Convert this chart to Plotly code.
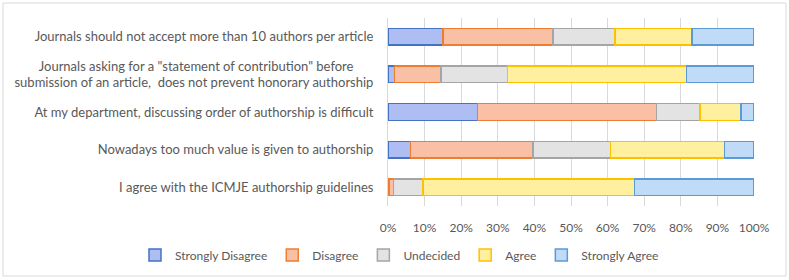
import plotly.graph_objects as go

NB = "\u00a0"
categories = [
    "Journals should not accept more than 10 authors per article",
    "Journals asking for a \"statement of contribution\" before" + NB * 6
    + "<br>submission of an article,  does not prevent honorary authorship",
    "At my department, discussing order of authorship is difficult",
    "Nowadays too much value is given to authorship",
    "I agree with the ICMJE authorship guidelines",
]
strongly_disagree = [15.0, 1.8, 24.5, 6.1, 0.3]
disagree = [30.1, 12.7, 48.8, 33.5, 1.2]
undecided = [16.9, 18.2, 12.0, 21.2, 8.0]
agree = [21.0, 48.8, 11.2, 31.1, 57.8]
strongly_agree = [17.0, 18.5, 3.5, 8.1, 32.7]

series = [
    ("Strongly Disagree", strongly_disagree, "#AEBDF2", "#4472C4"),
    ("Disagree", disagree, "#F9C0A6", "#ED7D31"),
    ("Undecided", undecided, "#E3E3E3", "#A5A5A5"),
    ("Agree", agree, "#FFF0A0", "#FFC000"),
    ("Strongly Agree", strongly_agree, "#BFDBF7", "#5B9BD5"),
]

fig = go.Figure()
for name, vals, fill, line in series:
    fig.add_trace(go.Bar(
        y=categories, x=vals, name=name, orientation="h",
        marker=dict(color=fill, line=dict(color=line, width=1.5)),
    ))

W, H = 789, 280
L, R, T, B = 388, 35, 18, 74
pw, ph = W - L - R, H - T - B

font_family = "Lato, Open Sans, sans-serif"
fig.update_layout(
    barmode="stack",
    width=W, height=H,
    margin=dict(l=L, r=R, t=T, b=B, autoexpand=False),
    paper_bgcolor="white", plot_bgcolor="white",
    font=dict(family=font_family, size=12, color="#595959"),
    showlegend=True,
    legend=dict(orientation="h", x=(135 - L) / pw, xanchor="left",
                y=-(255 - (H - B)) / ph, yanchor="middle",
                yref="paper", xref="paper",
                font=dict(size=12, color="#595959"), traceorder="normal"),
    bargap=0.56,
    shapes=[dict(type="rect", xref="paper", yref="paper",
                 x0=-(L - 3) / pw, x1=1 + (R - 3) / pw,
                 y0=-(B - 4) / ph, y1=1 + (T - 3) / ph,
                 line=dict(color="#D9D9D9", width=1), layer="below")],
)
fig.update_xaxes(range=[0, 100], dtick=10, ticksuffix="%", showgrid=True,
                 gridcolor="#D9D9D9", gridwidth=1, zeroline=False,
                 ticks="outside", ticklen=5, tickcolor="rgba(0,0,0,0)",
                 ticklabelstandoff=6,
                 tickfont=dict(size=12, color="#595959"), fixedrange=True,
                 automargin=False)
fig.update_yaxes(autorange="reversed", showgrid=False, showline=True,
                 linecolor="#D9D9D9", ticks="", ticklabelstandoff=11,
                 tickfont=dict(size=13, color="#595959"), fixedrange=True,
                 automargin=False)

fig.write_html("out.html", config={"displayModeBar": False},
               post_script="document.body.style.margin='0';")
